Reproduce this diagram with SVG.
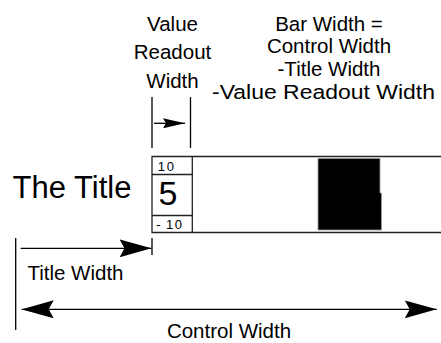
<svg xmlns="http://www.w3.org/2000/svg" width="441" height="343" viewBox="0 0 441 343">
<style>
  .t{font-family:"Liberation Sans",Arial,sans-serif;font-size:20.5px;fill:#000;text-anchor:middle}
  .n{font-family:"Liberation Sans",Arial,sans-serif;fill:#000}
  .ln{stroke:#000;stroke-width:1.3;fill:none}
  .box{stroke:#222;stroke-width:1.3;fill:#fff}
</style>
<defs>
  <marker id="big" markerUnits="userSpaceOnUse" markerWidth="32" markerHeight="18" viewBox="0 0 32 18" refX="32" refY="9" orient="auto-start-reverse">
    <path d="M0,0 L32,9 L0,18 L5,9 Z" fill="#000"/>
  </marker>
  <marker id="small" markerUnits="userSpaceOnUse" markerWidth="22" markerHeight="10" viewBox="0 0 22 10" refX="22" refY="5" orient="auto">
    <path d="M0,0 L22,5 L0,10 L3,5 Z" fill="#000"/>
  </marker>
</defs>
<rect width="441" height="343" fill="#fff"/>

<g id="title">
  <text class="n" x="12.5" y="198" font-size="31">The Title</text>
</g>

<g id="control">
  <path class="box" d="M441,156.5 H152 V232.5 H441"/>
  <line class="box" x1="192.3" y1="156.5" x2="192.3" y2="232.5"/>
  <line class="box" x1="152" y1="174.5" x2="192.3" y2="174.5"/>
  <line class="box" x1="152" y1="215.5" x2="192.3" y2="215.5"/>
  <text class="n" x="157.8" y="171" font-size="13" letter-spacing="1.6">10</text>
  <text class="n" x="158.5" y="205" font-size="34">5</text>
  <text class="n" x="156.3" y="228.5" font-size="13">-</text>
  <text class="n" x="166" y="228.5" font-size="13" letter-spacing="1.6">10</text>
  <path d="M318,158.5 H380 V193 H381.5 V230 H318 Z" fill="#000" stroke="#999" stroke-width="0.8"/>
</g>

<g id="label-value-readout">
  <text class="t" x="172.5" y="30.5">Value</text>
  <text class="t" x="172.5" y="59">Readout</text>
  <text class="t" x="172.5" y="87.5">Width</text>
</g>

<g id="label-bar-width">
  <text class="t" x="329" y="30.5">Bar Width =</text>
  <text class="t" x="329" y="52.5">Control Width</text>
  <text class="t" x="329" y="75.5">-Title Width</text>
  <text class="t" x="323.5" y="98.5" textLength="223" lengthAdjust="spacingAndGlyphs">-Value Readout Width</text>
</g>

<g id="label-title-width">
  <text class="t" x="75.5" y="280">Title Width</text>
</g>

<g id="label-control-width">
  <text class="t" x="229" y="338">Control Width</text>
</g>

<g id="connectors">
  <line class="ln" x1="152" y1="97" x2="152" y2="148"/>
  <line class="ln" x1="190.5" y1="97" x2="190.5" y2="148"/>
  <line class="ln" x1="154" y1="123.3" x2="185" y2="123.3" marker-end="url(#small)"/>
  <line class="ln" x1="15.7" y1="238" x2="15.7" y2="330"/>
  <line class="ln" x1="152" y1="238" x2="152" y2="255"/>
  <line class="ln" x1="20.7" y1="248.3" x2="151.5" y2="248.3" marker-end="url(#big)"/>
  <line class="ln" x1="21.7" y1="309.3" x2="436.7" y2="309.3" marker-start="url(#big)" marker-end="url(#big)"/>
</g>
</svg>
